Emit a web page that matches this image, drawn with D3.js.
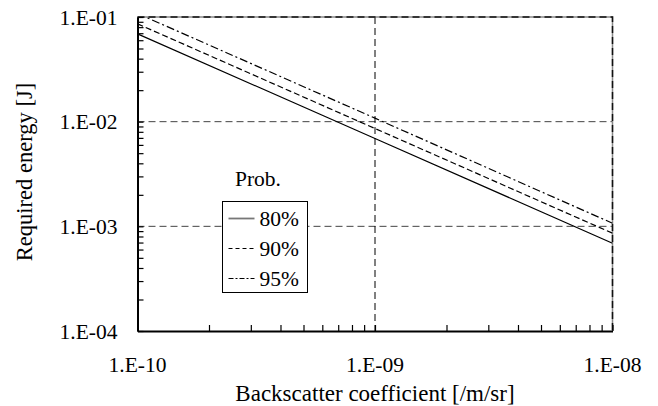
<!DOCTYPE html>
<meta charset="utf-8">
<style>
body { margin: 0; background: #fff; }
</style>
<body>
<script src="https://d3js.org/d3.v7.min.js"></script>
<script>

const width = 658;
const height = 406;
const margin = {top: 17, right: 45.5, bottom: 75, left: 137.5};
const innerWidth = width - margin.left - margin.right;
const innerHeight = height - margin.top - margin.bottom;
const font = "Liberation Serif, Times New Roman, Times, Tinos, Nimbus Roman, FreeSerif, Noto Serif, DejaVu Serif, serif";

// backscatter coefficient [/m/sr]
const beta = [1e-10, 1e-9, 1e-8];
// required energy [J] for each probability
const e80 = [0.069, 0.0069, 0.00069];
const e90 = [0.086, 0.0086, 0.00086];
const e95 = [0.108, 0.0108, 0.00107];
const probs = ["80%", "90%", "95%"];
const styles = [null, "6,3", "8,3,2,3"];

const xTicks = [1e-10, 1e-9, 1e-8];
const yTicks = [1e-4, 1e-3, 1e-2, 1e-1];

const fmt = v => "1.E-" + String(-Math.round(Math.log10(v))).padStart(2, "0");

const x = d3.scaleLog().domain([1e-10, 1e-8]).range([0, innerWidth]);
const y = d3.scaleLog().domain([1e-4, 1e-1]).range([innerHeight, 0]);

const minors = ext => {
  const out = [];
  for (let p = ext[0]; p < ext[1]; p *= 10)
    for (let k = 2; k <= 9; k++) out.push(p * k);
  return out;
};

const root = d3.select("body").append("svg")
    .attr("width", width)
    .attr("height", height);

const svg = root.append("g")
    .attr("transform", `translate(${margin.left},${margin.top})`);

svg.append("defs").append("clipPath").attr("id", "clip")
  .append("rect").attr("width", innerWidth).attr("height", innerHeight);

// grid
svg.selectAll(".hgrid")
  .data(yTicks.slice(1, 3))
  .enter().append("line")
    .attr("x1", 0).attr("x2", innerWidth)
    .attr("y1", d => y(d)).attr("y2", d => y(d))
    .attr("stroke", "#444").attr("stroke-dasharray", "7,4");

svg.append("line")
    .attr("x1", x(1e-9)).attr("x2", x(1e-9))
    .attr("y1", 0).attr("y2", innerHeight)
    .attr("stroke", "#000").attr("stroke-dasharray", "7,4");

// top and right frame
svg.append("path")
    .attr("d", `M0,0H${innerWidth}V${innerHeight}`)
    .attr("fill", "none").attr("stroke", "#888").attr("stroke-width", 1.5);
svg.append("path")
    .attr("d", `M0,0H${innerWidth}V${innerHeight}`)
    .attr("fill", "none").attr("stroke", "#111").attr("stroke-width", 1.5)
    .attr("stroke-dasharray", "7,4");

// series
const series = [e80, e90, e95].map((vals, i) => ({
  name: probs[i],
  dash: styles[i],
  values: beta.map((b, j) => ({b: b, e: vals[j]}))
}));

const line = d3.line()
    .x(d => x(d.b))
    .y(d => y(d.e));

svg.append("g").attr("clip-path", "url(#clip)")
  .selectAll("path")
  .data(series)
  .enter().append("path")
    .attr("d", d => line(d.values))
    .attr("fill", "none")
    .attr("stroke", "#000")
    .attr("stroke-width", 1.2)
    .attr("stroke-dasharray", d => d.dash);

// axes with inner ticks
const xAxis = svg.append("g")
    .attr("transform", `translate(0,${innerHeight})`)
    .call(d3.axisBottom(x).tickValues(xTicks.concat(minors([1e-10, 1e-8])))
      .tickSizeInner(-6).tickSizeOuter(0).tickFormat(""));
const yAxis = svg.append("g")
    .call(d3.axisLeft(y).tickValues(yTicks.concat(minors([1e-4, 1e-1])))
      .tickSizeInner(-6).tickSizeOuter(0).tickFormat(""));
[xAxis, yAxis].forEach(a => {
  a.select(".domain").attr("stroke", "#000").attr("stroke-width", 2);
  a.selectAll(".tick line").attr("stroke", "#000").attr("stroke-width", 1.2);
});

const label = (sel, size) => sel
    .style("font-family", font)
    .style("font-size", (size || 21.5) + "px")
    .attr("fill", "#000");

svg.selectAll(".ylab")
  .data(yTicks)
  .enter().append("text")
    .attr("x", -20).attr("y", d => y(d)).attr("dy", "0.35em")
    .attr("text-anchor", "end")
    .call(label)
    .text(fmt);

svg.selectAll(".xlab")
  .data(xTicks)
  .enter().append("text")
    .attr("x", d => x(d)).attr("y", innerHeight + 40.5)
    .attr("text-anchor", "middle")
    .call(label)
    .text(fmt);

svg.append("text")
    .attr("x", innerWidth / 2).attr("y", innerHeight + 69.5)
    .attr("text-anchor", "middle")
    .call(label, 23)
    .text("Backscatter coefficient [/m/sr]");

svg.append("text")
    .attr("transform", `translate(${31.5 - margin.left},${innerHeight / 2 - 2}) rotate(-90)`)
    .attr("text-anchor", "middle")
    .call(label, 22.5)
    .text("Required energy [J]");

// legend
const lg = svg.append("g").attr("transform", `translate(${222.5 - margin.left},${201.5 - margin.top})`);
lg.append("text")
    .attr("x", 35.5).attr("y", -16)
    .attr("text-anchor", "middle")
    .call(label)
    .text("Prob.");
lg.append("rect")
    .attr("width", 85).attr("height", 91)
    .attr("fill", "#fff").attr("stroke", "#000").attr("stroke-width", 1);
const row = lg.selectAll(".row")
  .data(series)
  .enter().append("g")
    .attr("transform", (d, i) => `translate(0,${17 + i * 30})`);
row.append("line")
    .attr("x1", 6).attr("x2", 32)
    .attr("stroke", (d, i) => i === 0 ? "#777" : "#000")
    .attr("stroke-width", (d, i) => i === 0 ? 1.8 : 1)
    .attr("stroke-dasharray", (d, i) => i === 0 ? null : (i === 1 ? "4,3" : "5,2,2,2"));
row.append("text")
    .attr("x", 37).attr("y", 7)
    .call(label)
    .text(d => d.name);

</script>
